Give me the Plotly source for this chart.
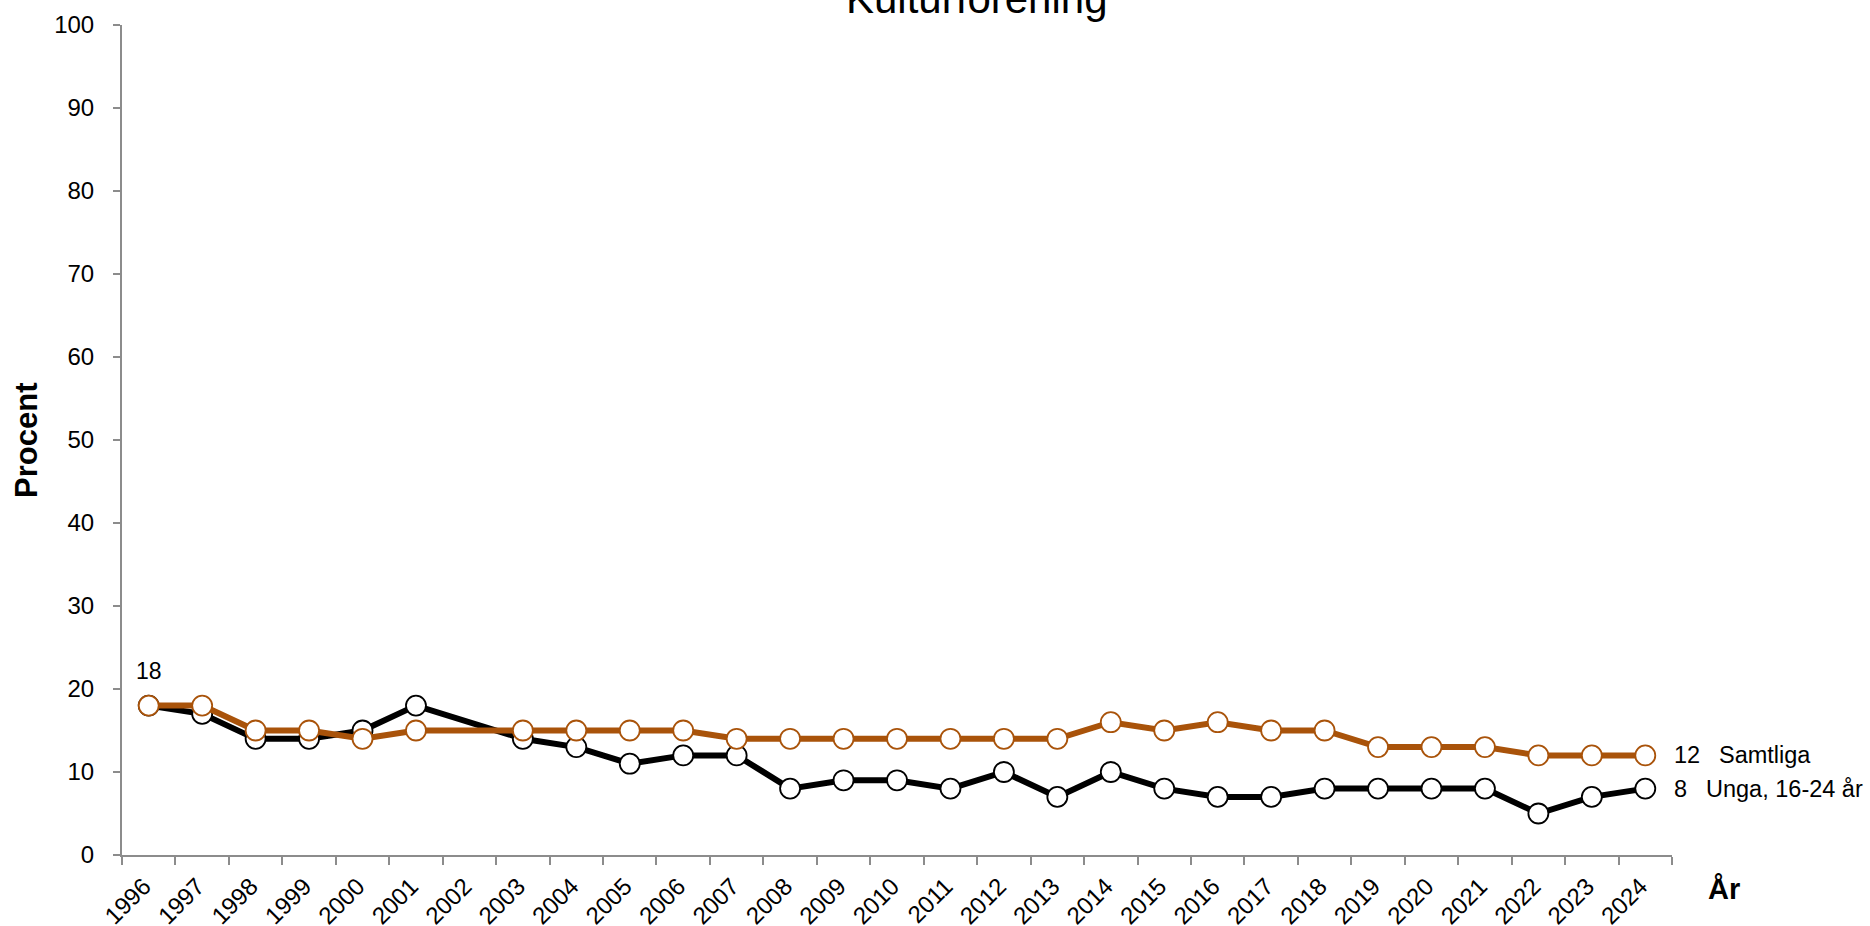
import plotly.graph_objects as go

years = [str(y) for y in range(1996, 2025)]
samtliga = [18, 18, 15, 15, 14, 15, None, 15, 15, 15, 15, 14, 14, 14, 14, 14, 14, 14,
            16, 15, 16, 15, 15, 13, 13, 13, 12, 12, 12]
unga = [18, 17, 14, 14, 15, 18, None, 14, 13, 11, 12, 12, 8, 9, 9, 8, 10, 7,
        10, 8, 7, 7, 8, 8, 8, 8, 5, 7, 8]
title_text = "Kulturförening"
series_names = ["Samtliga", "Unga, 16-24 år"]

ORANGE = "#A9530A"
BLACK = "#000000"
GRAY = "#8C8C8C"
FONT = "Liberation Sans, Arial, sans-serif"

fig = go.Figure()
fig.add_trace(go.Scatter(
    x=years, y=unga, mode="lines+markers", connectgaps=True, name=series_names[1],
    line=dict(color=BLACK, width=6),
    marker=dict(symbol="circle", size=20, color="white", line=dict(color=BLACK, width=1.8)),
))
fig.add_trace(go.Scatter(
    x=years, y=samtliga, mode="lines+markers", connectgaps=True, name=series_names[0],
    line=dict(color=ORANGE, width=6),
    marker=dict(symbol="circle", size=20, color="white", line=dict(color=ORANGE, width=1.8)),
))

LABEL_SIZE = 23.5
annotations = [
    dict(text=title_text, xref="paper", yref="paper", x=0.5516, y=1.032,
         xanchor="center", yanchor="middle", showarrow=False,
         font=dict(family=FONT, size=42, color="black")),
    dict(text="<b>Procent</b>", xref="paper", yref="paper", x=-0.062, y=0.5,
         xanchor="center", yanchor="middle", textangle=-90, showarrow=False,
         font=dict(family=FONT, size=31, color="black")),
    dict(text="<b>År</b>", xref="paper", yref="paper", x=1.0335, y=-0.041,
         xanchor="center", yanchor="middle", showarrow=False,
         font=dict(family=FONT, size=29, color="black")),
    # category axis: annotation x is the category index
    dict(text=str(unga[0]), xref="x", yref="y", x=0, y=unga[0], yshift=35,
         xanchor="center", yanchor="middle", showarrow=False,
         font=dict(family=FONT, size=23, color="black")),
    dict(text=str(samtliga[-1]), xref="paper", yref="y", x=1.0, y=samtliga[-1],
         xanchor="left", yanchor="middle", showarrow=False,
         font=dict(family=FONT, size=LABEL_SIZE, color="black")),
    dict(text=series_names[0], xref="paper", yref="y", x=1.0, xshift=45, y=samtliga[-1],
         xanchor="left", yanchor="middle", showarrow=False,
         font=dict(family=FONT, size=LABEL_SIZE, color="black")),
    dict(text=str(unga[-1]), xref="paper", yref="y", x=1.0, y=unga[-1],
         xanchor="left", yanchor="middle", showarrow=False,
         font=dict(family=FONT, size=LABEL_SIZE, color="black")),
    dict(text=series_names[1], xref="paper", yref="y", x=1.0, xshift=32, y=unga[-1],
         xanchor="left", yanchor="middle", showarrow=False,
         font=dict(family=FONT, size=LABEL_SIZE, color="black")),
]

tick_text = [y + "\u00a0" for y in years]

fig.update_layout(
    width=1870, height=926,
    margin=dict(l=122, r=198, t=25, b=71),
    paper_bgcolor="white", plot_bgcolor="white",
    showlegend=False,
    font=dict(family=FONT, size=23, color="black"),
    annotations=annotations,
    xaxis=dict(
        type="category", categoryorder="array", categoryarray=years,
        range=[-0.5, len(years) - 0.5], automargin=False,
        tickmode="array", tickvals=years, ticktext=tick_text,
        showgrid=False, zeroline=False,
        showline=True, linecolor=GRAY, linewidth=2,
        ticks="outside", tickson="boundaries", ticklen=8, tickwidth=2, tickcolor=GRAY,
        ticklabelstandoff=1,
        tickangle=-45, tickfont=dict(family=FONT, size=24, color="black"),
    ),
    yaxis=dict(
        range=[0, 100], dtick=10, tick0=0, automargin=False,
        showgrid=False, zeroline=False,
        showline=True, linecolor=GRAY, linewidth=2,
        ticks="outside", ticklen=7, tickwidth=2, tickcolor=GRAY,
        ticklabelstandoff=14,
        tickfont=dict(family=FONT, size=24, color="black"),
    ),
)

fig.write_html(
    "out.html",
    config={"displayModeBar": False},
    post_script="document.body.style.margin='0';document.body.style.padding='0';",
)
